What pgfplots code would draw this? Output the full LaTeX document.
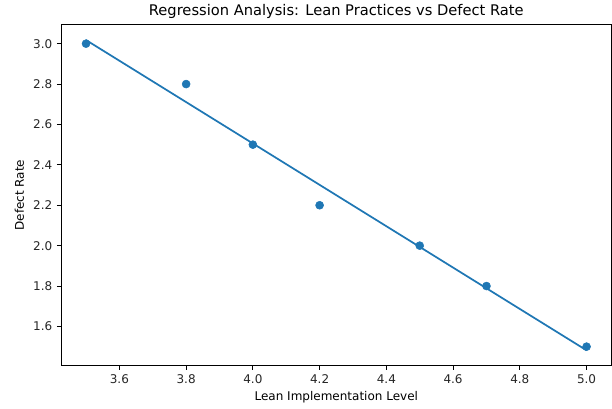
\documentclass[border=0pt]{standalone}
\usepackage{pgfplots}
\pgfplotsset{compat=1.18}
\usepackage{fontspec}
\setmainfont{DejaVu Sans}
\definecolor{mplblue}{HTML}{1F77B4}

\begin{document}
\begin{tikzpicture}[x=1pt,y=1pt]
\begin{axis}[
    name=ax,
    scale only axis,
    width=413pt, height=256pt,
    xmin=3.425, xmax=5.075, ymin=1.405, ymax=3.0947,
    xtick={3.6,3.8,4.0,4.2,4.4,4.6,4.8,5.0},
    ytick={1.6,1.8,2.0,2.2,2.4,2.6,2.8,3.0},
    xticklabel style={/pgf/number format/.cd,fixed,fixed zerofill,precision=1},
    yticklabel style={/pgf/number format/.cd,fixed,fixed zerofill,precision=1},
    /pgf/number format/assume math mode=true,
    tick align=outside,
    major tick length=3pt,
    tick style={black, line width=0.6pt},
    axis line style={line width=0.6pt},
    xtick pos=bottom, ytick pos=left,
    ticklabel style={font=\fontsize{9}{11}\selectfont, text=black!85},
    label style={font=\fontsize{9}{11}\selectfont},
    title style={font=\fontsize{11}{13}\selectfont, yshift=-5pt},
    title={Regression Analysis: Lean Practices vs Defect Rate},
    xlabel={Lean Implementation Level},
    ylabel={Defect Rate},
    xlabel style={yshift=1pt},
    ylabel style={yshift=0pt},
]
% observed points
\addplot[only marks, mark=*, mark size=3pt, mark options={draw=mplblue, fill=mplblue}]
  coordinates {
    (3.5,3.0) (3.8,2.8) (4.0,2.5) (4.2,2.2) (4.5,2.0) (4.7,1.8) (5.0,1.5)
  };
% fitted regression line
\addplot[mplblue, line width=1.3pt, no marks]
  coordinates {
    (3.5,3.0179) (3.8,2.7107) (4.0,2.5059) (4.2,2.3010) (4.5,1.9938) (4.7,1.7889) (5.0,1.4817)
  };
\end{axis}
\pgfresetboundingbox
\path[use as bounding box] ([shift={(-45.75pt,-31.7pt)}]ax.south west) rectangle ([shift={(0.3pt,18.4pt)}]ax.north east);
\end{tikzpicture}
\end{document}
